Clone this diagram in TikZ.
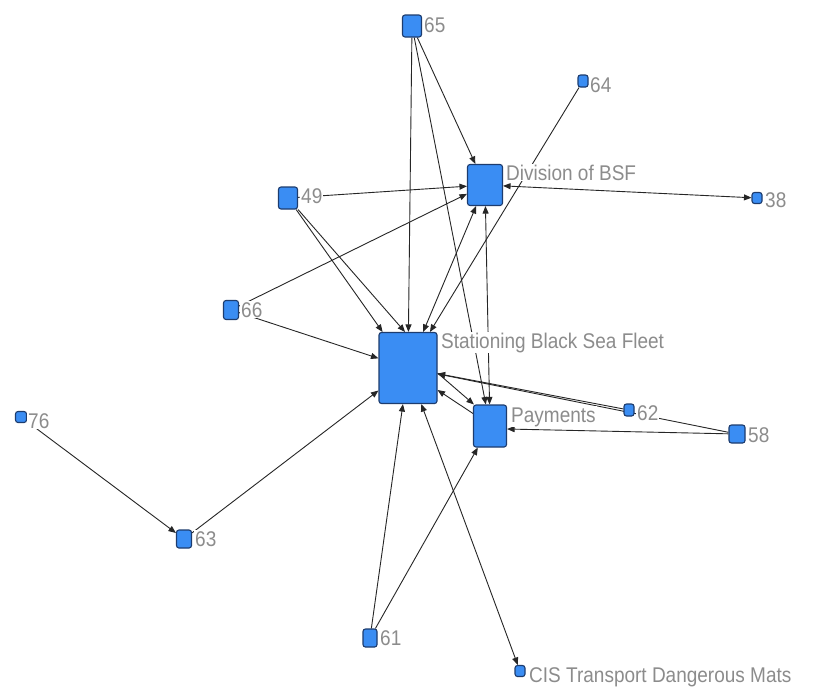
\documentclass[tikz,border=0pt]{standalone}
\usepackage{graphicx}
\usepackage{fontspec}
\setmainfont{Liberation Sans}
\usetikzlibrary{arrows.meta,backgrounds}
\definecolor{actfill}{HTML}{3A8DF3}
\definecolor{actline}{HTML}{1D3C6E}
\definecolor{labgray}{HTML}{8C8C8C}
\definecolor{edge}{HTML}{262626}
\newcommand\tallcap[1]{\scalebox{1}[1.12]{#1}}
\tikzset{
  actor/.style 2 args={rounded corners=2.5pt, fill=actfill, draw=actline, line width=1.1pt, inner sep=0pt, minimum width=#1, minimum height=#2},
  lab/.style={anchor=base west, text=labgray, fill=white, inner xsep=1pt, inner ysep=1pt, font=\fontsize{19}{22}\selectfont},
  arr/.style={-{Triangle[length=7.5pt,width=6pt]}, line width=0.9pt, draw=edge},
  arrs/.style={{Triangle[length=7.5pt,width=6pt]}-{Triangle[length=7.5pt,width=6pt]}, line width=0.9pt, draw=edge},
}

\begin{document}
\begin{tikzpicture}[x=1pt,y=-1pt]
  \useasboundingbox (0,0) rectangle (813,689);
  % actors
  \foreach \name/\x/\y/\w/\h in {sbsf/408/368/58/71, div/485/185/35/41, pay/490/426/33/42,
      n65/412/26/19/22, n64/583/81/10/12, n38/757/198/10/11, n49/288/198/19/22,
      n66/231/310/15/19, n62/629/410/10/12, n58/737/434/16/18, n76/21/417/11/11,
      n63/184/539/15/18, n61/370/638/14/18, cis/520/671/10/11}
    \node[actor={\w}{\h}] (\name) at (\x,\y) {};
  % labels
  \foreach \name/\x/\y/\txt in {sbsf/440/348/Stationing Black Sea Fleet, div/505/180/Division of BSF,
      pay/510/422/Payments, n65/423/32/65, n64/589/92/64, n38/764/207/38, n49/300/203/49,
      n66/240/317/66, n62/636/420/62, n58/747/442/58, n76/27/428/76, n63/194/546/63,
      n61/379/645/61, cis/528/682/CIS Transport Dangerous Mats}
    \node[lab] (l\name) at (\x,\y) {\tallcap{\txt}};
  % ties
  \begin{scope}[on background layer]
    \fill[white] (0,0) rectangle (813,689);
    \foreach \a/\b in {n65/sbsf, n65/div, n65/pay, n64/sbsf, n49/div, n49/sbsf, n66/div, n66/sbsf,
        n62/sbsf, n58/sbsf, n76/n63, n63/sbsf, n61/sbsf, n61/pay}
      \draw[arr] (\a) -- (\b);
    \foreach \a/\b in {div/n38, sbsf/div, div/pay, sbsf/cis}
      \draw[arrs] (\a) -- (\b);
    \draw[arr] (n49.south east) -- ([xshift=-3pt]sbsf.north);
    \draw[arr] (n58) -- ([yshift=-3pt]pay.east);
    \draw[arr] ([yshift=-5pt]sbsf.east) -- ([xshift=1pt]pay.north west);
    \draw[arr] ([yshift=-9pt]pay.north west) -- ([yshift=-22pt]sbsf.east);
  \end{scope}
\end{tikzpicture}
\end{document}
